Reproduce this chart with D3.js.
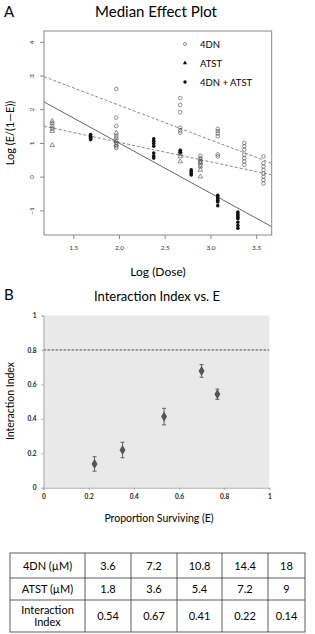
<!DOCTYPE html>
<html><head><meta charset="utf-8">
<script src="https://cdn.jsdelivr.net/npm/d3@7"></script>
<style>
html,body{margin:0;padding:0;background:#fff;}
svg{display:block;}
text{font-family:Lato,"Open Sans",sans-serif;}
</style></head>
<body>
<svg id="c" width="315" height="634"></svg>
<script>
// ---------- Panel A data ----------
const fourDN = [
  {x:1.97, ys:[2.6,1.75,1.5,1.2,1.0,0.9,0.85]},
  {x:2.67, ys:[2.33,2.13,1.91,1.45,1.37,1.3]},
  {x:2.89, ys:[0.62,0.55,0.45,0.35]},
  {x:3.08, ys:[1.42,1.35,1.28,1.2,0.66,0.6]},
  {x:3.37, ys:[1.0,0.9,0.8,0.65,0.55,0.45,0.35]},
  {x:3.58, ys:[0.6,0.4,0.3,0.2,0.1,0.0,-0.1,-0.2]}
];
const atst = [
  {x:1.27, ys:[1.65,1.58,1.5,1.42,1.35,0.93]},
  {x:1.97, ys:[1.3,1.15,1.05,0.95]},
  {x:2.67, ys:[0.75,0.68,0.6,0.45]},
  {x:2.89, ys:[0.5,0.42,0.3,0.2,0.0]}
];
const combo = [
  {x:1.69, ys:[1.25,1.2,1.17,1.13,1.1]},
  {x:2.38, ys:[1.12,1.05,0.98,0.9,0.7,0.62,0.55]},
  {x:2.67, ys:[0.78,0.72]},
  {x:2.79, ys:[0.2,0.15,0.1,0.05]},
  {x:3.08, ys:[-0.55,-0.6,-0.65,-0.7,-0.75,-0.86]},
  {x:3.30, ys:[-1.05,-1.1,-1.15,-1.2,-1.25,-1.35,-1.45,-1.53]}
];
// fitted lines: intercept, slope
const fitLines = [
  {name:"4DN", a:4.18, b:-1.03, dash:"3,2"},
  {name:"ATST", a:2.18, b:-0.58, dash:"3,2"},
  {name:"4DN + ATST", a:3.97, b:-1.486, dash:null}
];
const xTicksA = [1.5,2.0,2.5,3.0,3.5];
const yTicksA = [-1,0,1,2,3,4];
const legendLabels = ["4DN","ATST","4DN + ATST"];

// ---------- Panel B data ----------
const propSurv = [0.226, 0.35, 0.534, 0.70, 0.77];
const intIndex = [0.138, 0.219, 0.413, 0.678, 0.543];
const intErr   = [0.042, 0.045, 0.048, 0.037, 0.03];
const ticksB = [0,0.2,0.4,0.6,0.8,1];
const tickLabelsB = ["0","0.2","0.4","0.6","0.8","1"];

// ---------- Table data ----------
const rowHeads = ["4DN (\u00b5M)","ATST (\u00b5M)","Interaction\nIndex"];
const dose4DN = ["3.6","7.2","10.8","14.4","18"];
const doseATST = ["1.8","3.6","5.4","7.2","9"];
const indexVals = ["0.54","0.67","0.41","0.22","0.14"];

const svg = d3.select("#c");

// ================= Panel A =================
const xA = d3.scaleLinear().domain([1.18,3.67]).range([44,271.7]);
const yA = d3.scaleLinear().domain([-1.73,4.32]).range([235,31]);
const gA = svg.append("g");
gA.append("text").attr("x",4).attr("y",17).attr("font-size",15).text("A");
gA.append("text").attr("x",156).attr("y",17).attr("font-size",15).attr("text-anchor","middle").text("Median Effect Plot");

svg.append("clipPath").attr("id","clipA").append("rect")
  .attr("x",44).attr("y",31).attr("width",271.7-44).attr("height",235-31);

// lines
const [dx0,dx1] = xA.domain();
gA.append("g").attr("clip-path","url(#clipA)").selectAll("line").data(fitLines).join("line")
  .attr("x1",xA(dx0)).attr("x2",xA(dx1))
  .attr("y1",d=>yA(d.a+d.b*dx0)).attr("y2",d=>yA(d.a+d.b*dx1))
  .attr("stroke",d=>d.dash?"#777":"#555").attr("stroke-width",0.9)
  .attr("stroke-dasharray",d=>d.dash);

const flat = arr => arr.flatMap(c=>c.ys.map(y=>({x:c.x,y})));
// open circles
gA.append("g").selectAll("circle").data(flat(fourDN)).join("circle")
  .attr("cx",d=>xA(d.x)).attr("cy",d=>yA(d.y)).attr("r",1.8)
  .attr("fill","none").attr("stroke","#444").attr("stroke-width",0.6);
// triangles
const tri = d3.symbol().type(d3.symbolTriangle).size(9);
gA.append("g").selectAll("path").data(flat(atst)).join("path")
  .attr("d",tri).attr("transform",d=>`translate(${xA(d.x)},${yA(d.y)})`)
  .attr("fill","none").attr("stroke","#444").attr("stroke-width",0.6);
// filled
gA.append("g").selectAll("circle").data(flat(combo)).join("circle")
  .attr("cx",d=>xA(d.x)).attr("cy",d=>yA(d.y)).attr("r",1.8)
  .attr("fill","#111");

// frame
gA.append("rect").attr("x",44).attr("y",31).attr("width",271.7-44).attr("height",235-31)
  .attr("fill","none").attr("stroke","#888").attr("stroke-width",1);

// axes
const axX = gA.append("g").attr("transform","translate(0,235)")
  .call(d3.axisBottom(xA).tickValues(xTicksA).tickFormat(d3.format(".1f")).tickSize(4).tickPadding(6));
axX.select(".domain").remove();
axX.selectAll("line").attr("stroke","#888");
axX.selectAll("text").attr("font-size",6.5).attr("fill","#333");

const axY = gA.append("g").attr("transform","translate(44,0)")
  .call(d3.axisLeft(yA).tickValues(yTicksA).tickFormat(d3.format("d")).tickSize(4).tickPadding(0));
axY.select(".domain").remove();
axY.selectAll("line").attr("stroke","#888");
axY.selectAll("text").attr("font-size",6.5).attr("fill","#333")
  .attr("text-anchor","middle").attr("x",0).attr("dy",0)
  .attr("transform","translate(-10,0) rotate(-90)");

gA.append("text").attr("transform","translate(14,133) rotate(-90)").attr("font-size",11)
  .attr("text-anchor","middle").text("Log (E/(1\u2014E))");
gA.append("text").attr("x",158).attr("y",276).attr("font-size",12)
  .attr("text-anchor","middle").text("Log (Dose)");

// legend
const lg = gA.append("g");
legendLabels.forEach((l,i)=>{
  const y = 44 + i*19;
  if(i===0) lg.append("circle").attr("cx",185).attr("cy",y).attr("r",1.5).attr("fill","none").attr("stroke","#444").attr("stroke-width",0.6);
  if(i===1) lg.append("path").attr("d",d3.symbol().type(d3.symbolTriangle).size(8)).attr("transform",`translate(185,${y})`).attr("fill","#111");
  if(i===2) lg.append("circle").attr("cx",185).attr("cy",y).attr("r",1.7).attr("fill","#111");
  lg.append("text").attr("x",200).attr("y",y+3.5).attr("font-size",9.5).text(l);
});

// ================= Panel B =================
const xB = d3.scaleLinear().domain([0,1]).range([43.5,269.3]);
const yB = d3.scaleLinear().domain([0,1]).range([487.7,315.5]);
const gB = svg.append("g");
gB.append("text").attr("x",4).attr("y",300).attr("font-size",15).text("B");
gB.append("text").attr("x",157).attr("y",301).attr("font-size",13).attr("text-anchor","middle").text("Interaction Index vs. E");

gB.append("rect").attr("x",xB(0)).attr("y",yB(1)).attr("width",xB(1)-xB(0)).attr("height",yB(0)-yB(1))
  .attr("fill","#e9e9e9");
gB.append("line").attr("x1",xB(0)).attr("x2",xB(1)).attr("y1",yB(0.8)).attr("y2",yB(0.8))
  .attr("stroke","#222").attr("stroke-width",0.8).attr("stroke-dasharray","2.5,1.5");

const bxAx = gB.append("g").attr("transform",`translate(0,${yB(0)})`)
  .call(d3.axisBottom(xB).tickValues(ticksB).tickFormat((d,i)=>tickLabelsB[i]).tickSize(2).tickPadding(5));
bxAx.select(".domain").attr("stroke","#aaa");
bxAx.selectAll("line").attr("stroke","#aaa");
bxAx.selectAll("text").attr("font-size",6.5).attr("font-weight","bold").attr("fill","#222");
const byAx = gB.append("g").attr("transform",`translate(${xB(0)},0)`)
  .call(d3.axisLeft(yB).tickValues(ticksB).tickFormat((d,i)=>tickLabelsB[i]).tickSize(2).tickPadding(5));
byAx.select(".domain").attr("stroke","#aaa");
byAx.selectAll("line").attr("stroke","#aaa");
byAx.selectAll("text").attr("font-size",6.5).attr("font-weight","bold").attr("fill","#222");

// error bars
const eb = gB.append("g").attr("stroke","#555").attr("stroke-width",0.9);
propSurv.forEach((p,i)=>{
  const x = xB(p), y1 = yB(intIndex[i]+intErr[i]), y2 = yB(intIndex[i]-intErr[i]);
  eb.append("line").attr("x1",x).attr("x2",x).attr("y1",y1).attr("y2",y2);
  eb.append("line").attr("x1",x-2).attr("x2",x+2).attr("y1",y1).attr("y2",y1);
  eb.append("line").attr("x1",x-2).attr("x2",x+2).attr("y1",y2).attr("y2",y2);
});
gB.append("g").selectAll("path").data(propSurv).join("path")
  .attr("d",d3.symbol().type(d3.symbolDiamond).size(30))
  .attr("transform",(d,i)=>`translate(${xB(d)},${yB(intIndex[i])})`)
  .attr("fill","#555");

gB.append("text").attr("transform","translate(14,401) rotate(-90)").attr("font-size",10.5)
  .attr("text-anchor","middle").text("Interaction Index");
gB.append("text").attr("x",159).attr("y",522).attr("font-size",10.5)
  .attr("text-anchor","middle").text("Proportion Surviving (E)");

// ================= Table =================
const colX = [10,85,131,177,222,268,305];
const rowY = [553,578,600,632];
const tg = svg.append("g");
const tableRows = [dose4DN, doseATST, indexVals];
tg.append("rect").attr("x",colX[0]).attr("y",rowY[0]).attr("width",colX[6]-colX[0]).attr("height",rowY[3]-rowY[0])
  .attr("fill","none").attr("stroke","#333").attr("stroke-width",0.8);
colX.slice(1,6).forEach(x=>tg.append("line").attr("x1",x).attr("x2",x).attr("y1",rowY[0]).attr("y2",rowY[3]).attr("stroke","#333").attr("stroke-width",0.8));
rowY.slice(1,3).forEach(y=>tg.append("line").attr("x1",colX[0]).attr("x2",colX[6]).attr("y1",y).attr("y2",y).attr("stroke","#333").attr("stroke-width",0.8));
rowHeads.forEach((h,r)=>{
  const cy = (rowY[r]+rowY[r+1])/2;
  const cx = (colX[0]+colX[1])/2;
  const lines = h.split("\n");
  lines.forEach((ln,k)=>{
    tg.append("text").attr("x",cx).attr("y",cy+4+(k-(lines.length-1)/2)*12.5)
      .attr("font-size",11).attr("text-anchor","middle").text(ln);
  });
  tableRows[r].forEach((v,c)=>{
    tg.append("text").attr("x",(colX[c+1]+colX[c+2])/2).attr("y",cy+4)
      .attr("font-size",11).attr("text-anchor","middle").text(v);
  });
});
</script>
</body></html>
